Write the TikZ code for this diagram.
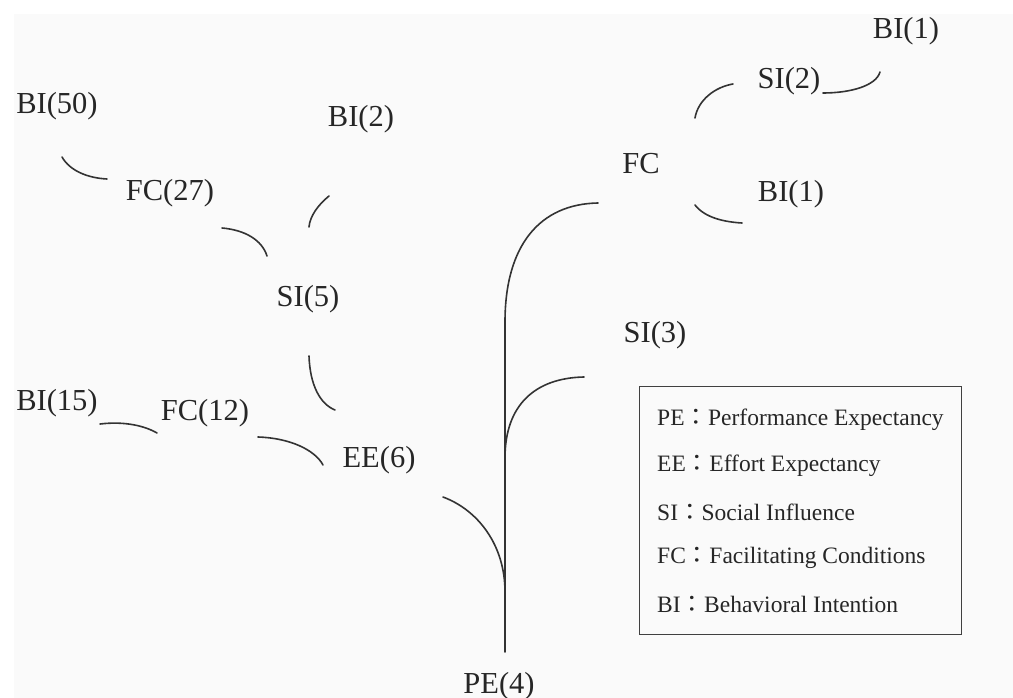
\documentclass[tikz,border=0pt]{standalone}
\usepackage{fontspec}
\setmainfont{Liberation Serif}
\newfontfamily\cjk{Noto Sans CJK TC}
\begin{document}
\begin{tikzpicture}[x=1pt,y=-1pt,
  lbl/.style={inner sep=0pt,text=black!85,font=\fontsize{30.5}{30.5}\selectfont},
  key/.style={inner sep=0pt,anchor=west,text=black!85,font=\fontsize{23.5}{23.5}\selectfont},
  link/.style={draw=black!80,line width=1.6pt,line cap=round}]
\useasboundingbox (0,0) rectangle (1013,698);
\fill[black!2] (14,14) rectangle (1013,698);

% labels of the left tree
\node[lbl] (bi50) at (57,106) {BI(50)};
\node[lbl] (bi2)  at (361,119) {BI(2)};
\node[lbl] (fc27) at (170,193) {FC(27)};
\node[lbl] (si5)  at (308,299) {SI(5)};
\node[lbl] (bi15) at (57,403) {BI(15)};
\node[lbl] (fc12) at (205,413) {FC(12)};
\node[lbl] (ee6)  at (379,460) {EE(6)};
% labels of the right tree
\node[lbl] (bi1a) at (906,31) {BI(1)};
\node[lbl] (si2)  at (789,81) {SI(2)};
\node[lbl] (fc)   at (641,164) {FC};
\node[lbl] (bi1b) at (791,194) {BI(1)};
\node[lbl] (si3)  at (655,335) {SI(3)};
\node[lbl] (pe4)  at (499,686) {PE(4)};

% end points of the connecting strokes
\coordinate (stemB) at (505,652);
\coordinate (stemT) at (505,322);
\coordinate (fcEnd) at (598,203);
\coordinate (siJ)   at (505,458);
\coordinate (siEnd) at (584,377);
\coordinate (eeJ)   at (505,592);
\coordinate (eeEnd) at (443,497);

\coordinate (a1) at (62,157);  \coordinate (a2) at (107,179);
\coordinate (b1) at (222,228); \coordinate (b2) at (267,256);
\coordinate (c1) at (329,196); \coordinate (c2) at (309,227);
\coordinate (d1) at (309,356); \coordinate (d2) at (335,410);
\coordinate (e1) at (100,424); \coordinate (e2) at (157,433);
\coordinate (f1) at (258,437); \coordinate (f2) at (323,465);
\coordinate (g1) at (695,118); \coordinate (g2) at (733,84);
\coordinate (h1) at (823,93);  \coordinate (h2) at (880,72);
\coordinate (k1) at (695,205); \coordinate (k2) at (742,223);

% trunk and main branches
\draw[link] (stemB) -- (stemT) .. controls (505,245) and (540,204) .. (fcEnd);
\draw[link] (siJ) .. controls (505,405) and (535,378) .. (siEnd);
\draw[link] (eeEnd) .. controls (478,510) and (505,545) .. (eeJ);

% short arcs of the left tree
\draw[link] (a1) .. controls (70,171) and (88,178) .. (a2);
\draw[link] (b1) .. controls (245,230) and (262,240) .. (b2);
\draw[link] (c1) .. controls (318,205) and (310,216) .. (c2);
\draw[link] (d1) .. controls (310,385) and (320,404) .. (d2);
\draw[link] (e1) .. controls (125,421) and (145,426) .. (e2);
\draw[link] (f1) .. controls (290,438) and (315,450) .. (f2);
% short arcs of the right tree
\draw[link] (g1) .. controls (698,100) and (715,87) .. (g2);
\draw[link] (h1) .. controls (850,93) and (876,86) .. (h2);
\draw[link] (k1) .. controls (705,218) and (725,222) .. (k2);

% legend
\node[draw=black!75,line width=1pt,minimum width=322pt,minimum height=248pt,inner sep=0pt] (legend) at (800,510) {};
\node[key] (k1t) at (657,420) {PE{\cjk ：}Performance Expectancy};
\node[key] (k2t) at (657,466) {EE{\cjk ：}Effort Expectancy};
\node[key] (k3t) at (657,512) {SI{\cjk ：}Social Influence};
\node[key] (k4t) at (657,558) {FC{\cjk ：}Facilitating Conditions};
\node[key] (k5t) at (657,604) {BI{\cjk ：}Behavioral Intention};
\end{tikzpicture}
\end{document}
